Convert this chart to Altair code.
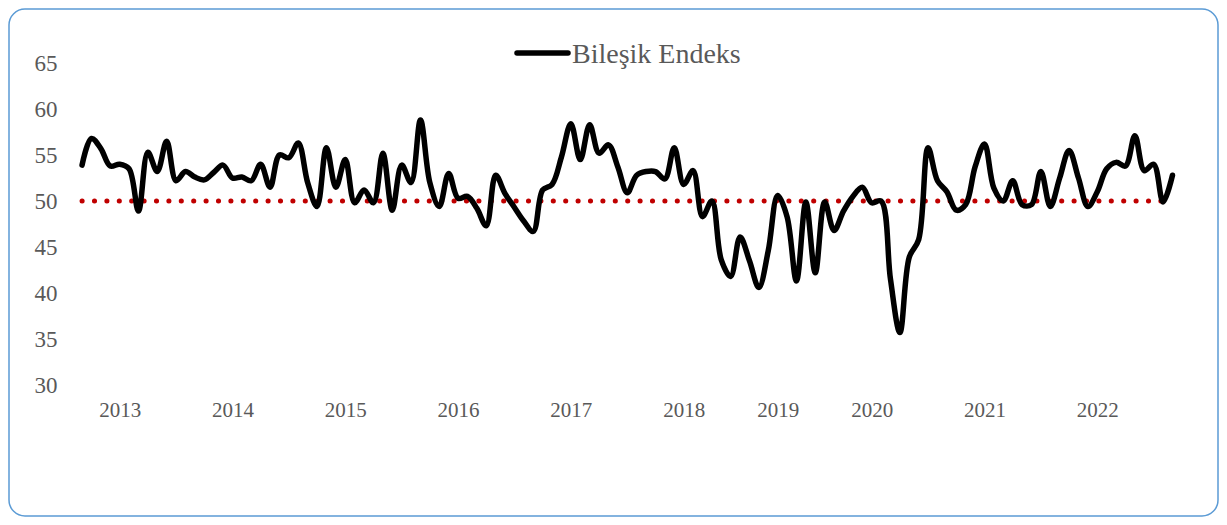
import altair as alt
import pandas as pd

# Composite index values (monthly)
values = [
    53.9, 56.8, 55.7, 53.8, 54.0, 53.5, 48.9, 55.3, 53.2, 56.5,
    52.2, 53.2, 52.6, 52.3, 53.1, 53.9, 52.5, 52.6, 52.2, 54.0,
    51.5, 55.0, 54.7, 56.3, 52.0, 49.4, 55.8, 51.5, 54.5, 49.8,
    51.2, 49.8, 55.2, 49.0, 53.9, 52.0, 58.8, 52.0, 49.4, 53.0,
    50.3, 50.5, 49.2, 47.3, 52.8, 50.8, 49.3, 47.8, 46.7, 51.2,
    51.8, 54.8, 58.4, 54.5, 58.3, 55.2, 56.1, 53.7, 50.9, 52.8,
    53.2, 53.2, 52.4, 55.8, 51.8, 53.3, 48.3, 50.0, 43.6, 41.8,
    46.1, 43.5, 40.6, 44.6, 50.6, 48.3, 41.3, 49.9, 42.2, 49.9,
    46.8, 48.9, 50.5, 51.5, 49.8, 50.0, 41.5, 35.7, 43.9, 45.8,
    55.8, 52.2, 51.0, 49.0, 49.6, 53.7, 56.2, 51.4, 50.0, 52.2,
    49.6, 49.6, 53.2, 49.4, 52.5, 55.5, 52.5, 49.4, 51.0, 53.5,
    54.2, 53.8, 57.1, 53.3, 54.0, 49.9, 52.8,
]
index = list(range(len(values)))

tick_positions = [4, 16, 28, 40, 52, 64, 74, 84, 96, 108]
tick_labels = ["2013", "2014", "2015", "2016", "2017", "2018", "2019", "2020", "2021", "2022"]
y_ticks = [30, 35, 40, 45, 50, 55, 60, 65]
threshold = 50
series_name = "Bileşik Endeks"

df = pd.DataFrame({"i": index, "v": values})

label_expr = "".join(
    f"datum.value == {p} ? '{t}' : " for p, t in zip(tick_positions, tick_labels)
) + "''"

FONT = "Liberation Serif"
GRAY = "#595959"

W, H = 1105, 322
PAD = {"left": 67, "top": 55, "right": 39, "bottom": 132}

x_scale = alt.Scale(domain=[-0.75, 116.8], nice=False, zero=False)
y_scale = alt.Scale(domain=[30, 65], nice=False, zero=False)

x_axis = alt.Axis(
    values=tick_positions, labelExpr=label_expr, title=None, grid=False,
    domain=False, ticks=False, labelPadding=14, labelFontSize=21,
    labelFont=FONT, labelColor=GRAY, labelFlush=False,
)
y_axis = alt.Axis(
    values=y_ticks, title=None, grid=False, domain=False, ticks=False,
    labelPadding=18, labelFontSize=23, labelFont=FONT, labelColor=GRAY,
)

line = alt.Chart(df).mark_line(
    color="black", strokeWidth=5.5, interpolate="catmull-rom",
    strokeCap="round", strokeJoin="round",
).encode(
    x=alt.X("i:Q", scale=x_scale, axis=x_axis),
    y=alt.Y("v:Q", scale=y_scale, axis=y_axis),
)

ref_df = pd.DataFrame({"x0": [index[0]], "x1": [index[-1]], "y": [threshold]})
dotted = alt.Chart(ref_df).mark_rule(
    color="#C00000", strokeWidth=5, strokeDash=[0.1, 12.3], strokeCap="round",
).encode(
    x=alt.X("x0:Q", scale=x_scale),
    x2="x1:Q",
    y=alt.Y("y:Q", scale=y_scale),
)

leg_df = pd.DataFrame({"label": [series_name]})
leg_line = alt.Chart(leg_df).mark_rule(
    color="black", strokeWidth=5.5, strokeCap="round",
).encode(x=alt.value(442), x2=alt.value(493), y=alt.value(-10))
leg_text = alt.Chart(leg_df).mark_text(
    align="left", baseline="middle", font=FONT, fontSize=28, color=GRAY,
).encode(x=alt.value(497), y=alt.value(-8), text="label:N")

border = alt.Chart(leg_df).mark_rect(
    fill=None, stroke="#5B9BD5", strokeWidth=1.5, cornerRadius=16,
).encode(
    x=alt.value(-PAD["left"] + 1), x2=alt.value(W + PAD["right"] - 1),
    y=alt.value(-PAD["top"] + 1), y2=alt.value(H + PAD["bottom"] - 1),
)

chart = alt.layer(dotted, line, leg_line, leg_text, border).properties(
    width=W, height=H, padding=PAD,
    autosize=alt.AutoSizeParams(type="none"),
    background="white",
).configure_view(stroke=None)

chart.save("out.html", embed_options={"renderer": "svg", "actions": False})
